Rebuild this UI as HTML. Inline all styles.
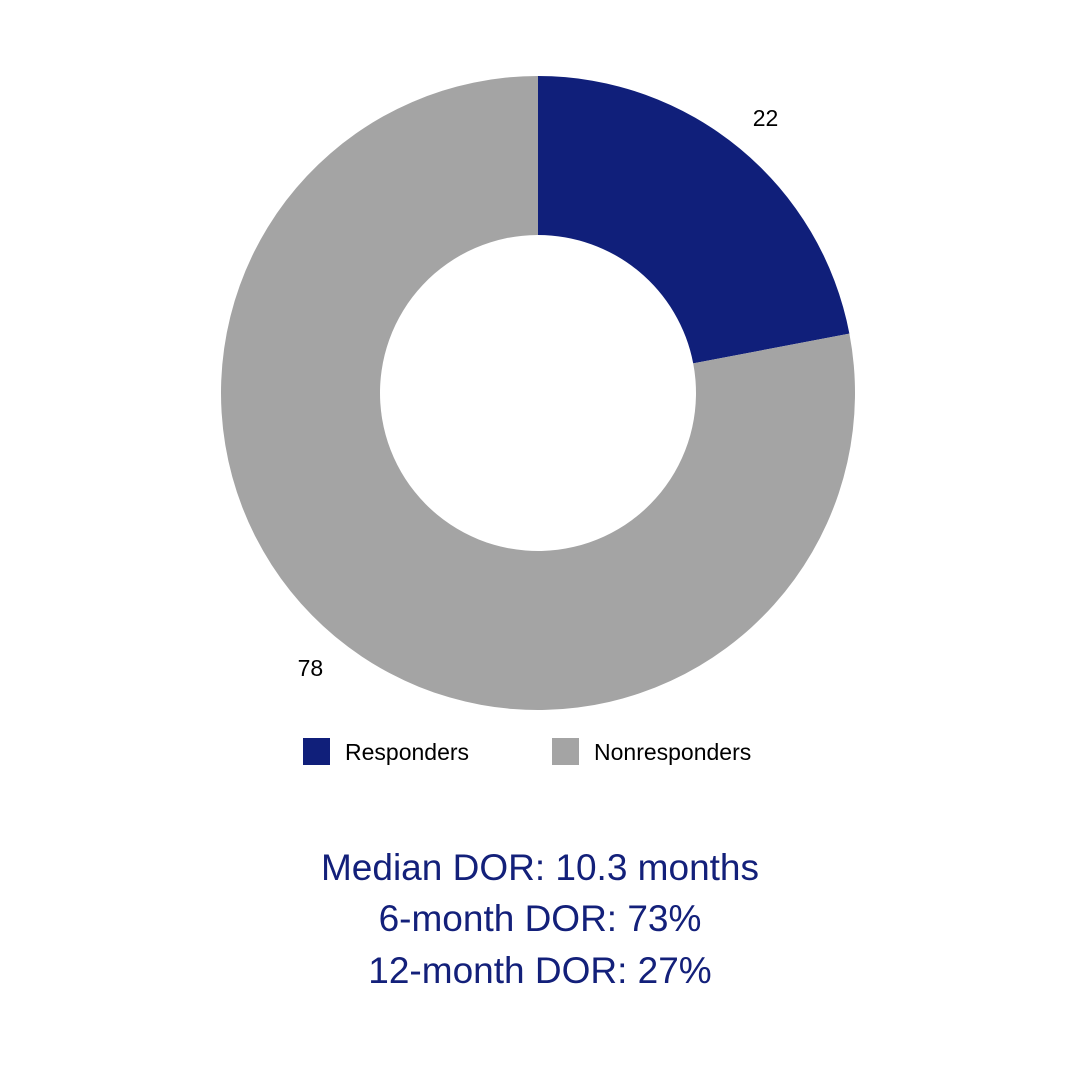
<!DOCTYPE html>
<html><head><meta charset="utf-8"><style>
body{margin:0;background:#fff;}
#wrap{position:relative;width:1080px;height:1080px;font-family:"Liberation Sans",sans-serif;}
.lbl{font-size:23px;fill:#000;}
.stat{position:absolute;left:0;width:1080px;text-align:center;color:#13207a;font-size:37px;}
</style></head><body>
<div id="wrap">
<svg id="svg" width="1080" height="1080">
<g id="slices"></g>
<g id="labels"></g>
<g>
<rect x="303" y="738" width="27" height="27" fill="#101f7a"/>
<text x="345" y="760" class="lbl">Responders</text>
<rect x="552" y="738" width="27" height="27" fill="#a4a4a4"/>
<text x="594" y="760" class="lbl">Nonresponders</text>
</g>
</svg>
<div class="stat" style="top:847px">Median DOR: 10.3 months</div>
<div class="stat" style="top:898px">6-month DOR: 73%</div>
<div class="stat" style="top:950px">12-month DOR: 27%</div>
</div>
<script>
const categories=["Responders","Nonresponders"];
const values=[22,78];
const colors=["#101f7a","#a4a4a4"];
const cx=538,cy=393,R=317,r=158;
const total=values.reduce((a,b)=>a+b,0);
const ns="http://www.w3.org/2000/svg";
const gS=document.getElementById("slices"),gL=document.getElementById("labels");
function pt(a,rad){return [cx+rad*Math.sin(a),cy-rad*Math.cos(a)];}
let acc=0;
values.forEach((v,i)=>{
  const a0=acc/total*2*Math.PI;acc+=v;const a1=acc/total*2*Math.PI;
  const large=(a1-a0)>Math.PI?1:0;
  const p0=pt(a0,R),p1=pt(a1,R),q1=pt(a1,r),q0=pt(a0,r);
  const p=document.createElementNS(ns,"path");
  p.setAttribute("d",`M${p0[0]},${p0[1]}A${R},${R} 0 ${large} 1 ${p1[0]},${p1[1]}L${q1[0]},${q1[1]}A${r},${r} 0 ${large} 0 ${q0[0]},${q0[1]}Z`);
  p.setAttribute("fill",colors[i]);
  
  
  gS.appendChild(p);
  const am=(a0+a1)/2;const lp=pt(am,R+40);
  const t=document.createElementNS(ns,"text");
  t.setAttribute("x",lp[0]);t.setAttribute("y",lp[1]+8);
  t.setAttribute("text-anchor","middle");t.setAttribute("class","lbl");
  t.textContent=v;
  
  
  gL.appendChild(t);
});
</script>
</body></html>
